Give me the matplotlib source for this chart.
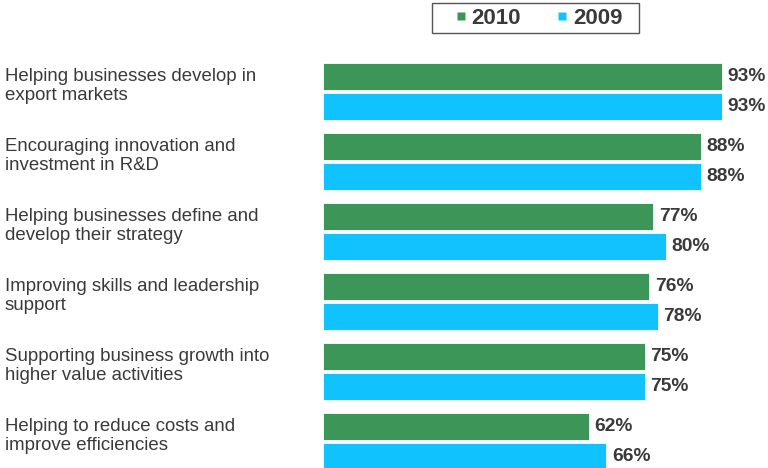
import numpy as np
import matplotlib.pyplot as plt
from matplotlib.lines import Line2D
from matplotlib.patches import Rectangle
from matplotlib.transforms import blended_transform_factory

plt.rcParams['font.family'] = ['Liberation Sans', 'DejaVu Sans']

categories = [
    "Helping businesses develop in\nexport markets",
    "Encouraging innovation and\ninvestment in R&D",
    "Helping businesses define and\ndevelop their strategy",
    "Improving skills and leadership\nsupport",
    "Supporting business growth into\nhigher value activities",
    "Helping to reduce costs and\nimprove efficiencies",
]
vals_2010 = [93, 88, 77, 76, 75, 62]
vals_2009 = [93, 88, 80, 78, 75, 66]

green = '#3b9657'
blue = '#10c3ff'
txt = '#3a3a3a'

fig = plt.figure(figsize=(7.68, 4.68), dpi=100)
ax = fig.add_axes([323 / 768, 0, 445 / 768, 428 / 468])

y = np.arange(len(categories))
off = 0.214
h = 0.39
b1 = ax.barh(y - off, vals_2010, height=h, color=green, edgecolor='white', linewidth=0.6)
b2 = ax.barh(y + off, vals_2009, height=h, color=blue, edgecolor='white', linewidth=0.6)

for bars, vals in ((b1, vals_2010), (b2, vals_2009)):
    ax.bar_label(bars, labels=[f"{v}%" for v in vals], padding=4,
                 fontsize=13.8, fontweight='bold', color=txt)

ax.set_xlim(0, 103.7)
ax.set_ylim(5.379, -0.736)
ax.axis('off')

# category names sit in the left margin
tr = blended_transform_factory(fig.transFigure, ax.transData)
for i, name in enumerate(categories):
    ax.text(5 / 768, i - 0.08, name, transform=tr, ha='left', va='center',
            fontsize=13.4, color=txt, linespacing=1.2, clip_on=False)

# legend without its own frame, boxed separately so the padding can be wider
handles = [
    Line2D([], [], marker='s', linestyle='none', markersize=6.2,
           markerfacecolor=green, markeredgecolor='none', label='2010'),
    Line2D([], [], marker='s', linestyle='none', markersize=6.2,
           markerfacecolor=blue, markeredgecolor='none', label='2009'),
]
leg = fig.legend(handles=handles, loc='center', bbox_to_anchor=(538.5 / 768, 1 - 18 / 468),
                 ncol=2, frameon=False, prop={'size': 16, 'weight': 'bold'},
                 handlelength=0.55, handletextpad=0.2, columnspacing=1.6,
                 borderpad=0, borderaxespad=0)
for t in leg.get_texts():
    t.set_color(txt)
fig.patches.append(Rectangle((432 / 768, 1 - 33 / 468), 207 / 768, 30 / 468,
                             transform=fig.transFigure, fill=False,
                             edgecolor='#555555', linewidth=1.0))

fig.savefig('out.png', dpi=100)
